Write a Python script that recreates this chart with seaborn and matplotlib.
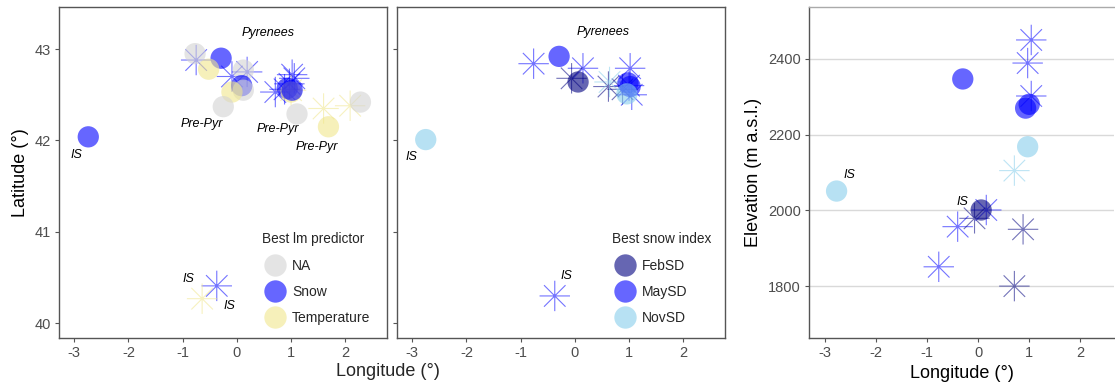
import numpy as np
import pandas as pd
import matplotlib
matplotlib.use("Agg")
import matplotlib.pyplot as plt
from matplotlib.path import Path
from matplotlib.lines import Line2D
import seaborn as sns

# ---------------- data ----------------
# Panel 1: best lm predictor (latitude vs longitude)
p1_circ_lon = [-2.74, -0.77, -0.29, -0.52, 0.12, 0.09, 0.12, -0.09, -0.25, 0.93, 1.00, 1.02, 1.11, 1.69, 2.28]
p1_circ_lat = [42.04, 42.95, 42.90, 42.78, 42.77, 42.60, 42.55, 42.53, 42.37, 42.57, 42.53, 42.55, 42.29, 42.15, 42.42]
p1_circ_grp = ["Snow", "NA", "Snow", "Temperature", "NA", "Snow", "NA", "Temperature", "NA",
               "Snow", "Temperature", "Snow", "NA", "Temperature", "NA"]
p1_star_lon = [-0.75, 0.19, -0.09, 0.71, 1.02, 1.06, 0.97, 0.88, -0.37, 1.00, 1.60, 2.09, -0.64]
p1_star_lat = [42.88, 42.75, 42.70, 42.53, 42.72, 42.68, 42.62, 42.56, 40.41, 42.55, 42.35, 42.38, 40.27]
p1_star_grp = ["Snow"] * 9 + ["Temperature"] * 4

# Panel 2: best snow index (latitude vs longitude)
p2_circ_lon = [-2.75, -0.29, 0.06, 0.98, 1.02, 0.96]
p2_circ_lat = [42.01, 42.92, 42.64, 42.63, 42.59, 42.51]
p2_circ_grp = ["NovSD", "MaySD", "FebSD", "MaySD", "MaySD", "NovSD"]
p2_star_lon = [-0.76, 0.15, -0.37, 1.02, 1.05, 1.00, -0.06, 0.62, 0.88, 0.64]
p2_star_lat = [42.84, 42.79, 40.30, 42.79, 42.50, 42.60, 42.68, 42.59, 42.56, 42.64]
p2_star_grp = ["MaySD"] * 6 + ["FebSD"] * 3 + ["NovSD"]

# Panel 3: elevation vs longitude
p3_circ_lon = [-2.77, -0.30, 0.93, 1.00, 0.97, 0.06]
p3_circ_elev = [2051, 2347, 2270, 2280, 2168, 2001]
p3_circ_grp = ["NovSD", "MaySD", "MaySD", "MaySD", "NovSD", "FebSD"]
p3_star_lon = [1.04, 0.97, 1.04, 0.16, -0.40, -0.77, -0.07, 0.88, 0.71, 0.71]
p3_star_elev = [2450, 2389, 2302, 2001, 1957, 1851, 1979, 1950, 1800, 2105]
p3_star_grp = ["MaySD"] * 6 + ["FebSD"] * 3 + ["NovSD"]

pred_levels = ["NA", "Snow", "Temperature"]
snow_levels = ["FebSD", "MaySD", "NovSD"]
pred_colors = ["#d3d3d3", "#0000ff", "#f0e68c"]
snow_colors = ["#000080", "#0000ff", "#87ceeb"]
lat_ticks = [40, 41, 42, 43]
lon_ticks = [-3, -2, -1, 0, 1, 2]
elev_ticks = [1800, 2000, 2200, 2400]

# ---------------- style ----------------
sns.set_theme(style="white")
plt.rcParams["font.family"] = ["Liberation Sans", "DejaVu Sans"]

pred_pal = dict(zip(pred_levels, pred_colors))
snow_pal = dict(zip(snow_levels, snow_colors))

# asterisk marker: 8 equal spokes
verts, codes = [], []
for a in np.deg2rad([0, 45, 90, 135]):
    verts += [(np.cos(a), np.sin(a)), (-np.cos(a), -np.sin(a))]
    codes += [Path.MOVETO, Path.LINETO]
star = Path(verts, codes)

CIRC_S = 235
STAR_S = 480
ALPHA = 0.6
TICK_COL = "#4d4d4d"
FRAME_COL = "#555555"

fig = plt.figure(figsize=(11.15, 3.9), dpi=100)
W, H = 1115, 390


def add_ax(l, r, t, b):
    return fig.add_axes([l / W, 1 - b / H, (r - l) / W, (b - t) / H])


ax1 = add_ax(59, 387, 7, 338)
ax2 = add_ax(397, 725, 7, 338)
ax3 = add_ax(809, 1114, 7, 338)


def draw(ax, clon, cy, cgrp, slon, sy, sgrp, pal, order):
    dfc = pd.DataFrame({"x": clon, "y": cy, "g": cgrp})
    dfs = pd.DataFrame({"x": slon, "y": sy, "g": sgrp})
    sns.scatterplot(data=dfs, x="x", y="y", hue="g", hue_order=order, palette=pal,
                    marker=star, s=STAR_S, linewidth=0.8, edgecolor="face",
                    alpha=0.55, legend=False, ax=ax, zorder=2)
    sns.scatterplot(data=dfc, x="x", y="y", hue="g", hue_order=order, palette=pal,
                    marker="o", s=CIRC_S, linewidth=0, alpha=ALPHA,
                    legend=False, ax=ax, zorder=3)


draw(ax1, p1_circ_lon, p1_circ_lat, p1_circ_grp, p1_star_lon, p1_star_lat, p1_star_grp,
     pred_pal, pred_levels)
draw(ax2, p2_circ_lon, p2_circ_lat, p2_circ_grp, p2_star_lon, p2_star_lat, p2_star_grp,
     snow_pal, snow_levels)
draw(ax3, p3_circ_lon, p3_circ_elev, p3_circ_grp, p3_star_lon, p3_star_elev, p3_star_grp,
     snow_pal, snow_levels)

for ax in (ax1, ax2):
    ax.set_xlim(-3.28, 2.77)
    ax.set_ylim(39.84, 43.46)
    ax.set_yticks(lat_ticks)
    ax.set_xticks(lon_ticks)
    ax.set_xlabel("")
    ax.set_ylabel("")
    for sp in ax.spines.values():
        sp.set_color(FRAME_COL)
        sp.set_linewidth(1.0)

ax1.set_yticklabels([str(v) for v in lat_ticks])
ax2.set_yticklabels([])
ax1.set_ylabel("Latitude (°)", fontsize=13, color="black", labelpad=4)

ax3.set_xlim(-3.31, 2.66)
ax3.set_ylim(1663, 2537)
ax3.set_yticks(elev_ticks)
ax3.set_xticks(lon_ticks)
ax3.grid(axis="y", color="#d9d9d9", linewidth=1.0)
ax3.set_axisbelow(True)
ax3.set_xlabel("Longitude (°)", fontsize=13, color="black", labelpad=3)
ax3.set_ylabel("Elevation (m a.s.l.)", fontsize=13, color="black", labelpad=4)
for name, sp in ax3.spines.items():
    sp.set_color(FRAME_COL)
    sp.set_linewidth(1.0)
ax3.spines["right"].set_visible(False)
ax3.spines["top"].set_color("#aaaaaa")

for ax in (ax1, ax2, ax3):
    ax.tick_params(axis="both", which="major", length=3, width=0.8, color=FRAME_COL,
                   labelsize=10.5, labelcolor=TICK_COL, pad=3, direction="out",
                   bottom=True, left=True)
    ax.set_xticklabels([str(v) for v in lon_ticks])

fig.text(388 / W, 1 - 372 / H, "Longitude (°)", ha="center", va="center", fontsize=13)

# annotations
itk = dict(fontsize=9, style="italic", ha="center", va="center", color="black")
ax1.text(0.58, 43.18, "Pyrenees", **itk)
ax1.text(-0.64, 42.18, "Pre-Pyr", **itk)
ax1.text(0.76, 42.13, "Pre-Pyr", **itk)
ax1.text(1.48, 41.93, "Pre-Pyr", **itk)
ax1.text(-2.96, 41.84, "IS", **itk)
ax1.text(-0.90, 40.49, "IS", **itk)
ax1.text(-0.14, 40.19, "IS", **itk)
ax2.text(0.52, 43.19, "Pyrenees", **itk)
ax2.text(-3.02, 41.82, "IS", **itk)
ax2.text(-0.15, 40.52, "IS", **itk)
ax3.text(-2.51, 2094, "IS", **itk)
ax3.text(-0.30, 2021, "IS", **itk)


def legend(ax, levels, pal, title, anchor):
    handles = [Line2D([], [], marker="o", linestyle="", markersize=np.sqrt(CIRC_S) * 1.05,
                      markerfacecolor=pal[l], markeredgewidth=0, alpha=ALPHA, label=l)
               for l in levels]
    leg = ax.legend(handles=handles, title=title, loc="lower left", bbox_to_anchor=anchor,
                    frameon=False, fontsize=10, title_fontsize=9.8, labelspacing=0.88,
                    handletextpad=0.25, borderpad=0.2, handlelength=1.9, alignment="left")
    return leg


legend(ax1, pred_levels, pred_pal, "Best lm predictor", (0.59, 0.01))
legend(ax2, snow_levels, snow_pal, "Best snow index", (0.625, 0.01))

fig.savefig("out.png", dpi=100)
